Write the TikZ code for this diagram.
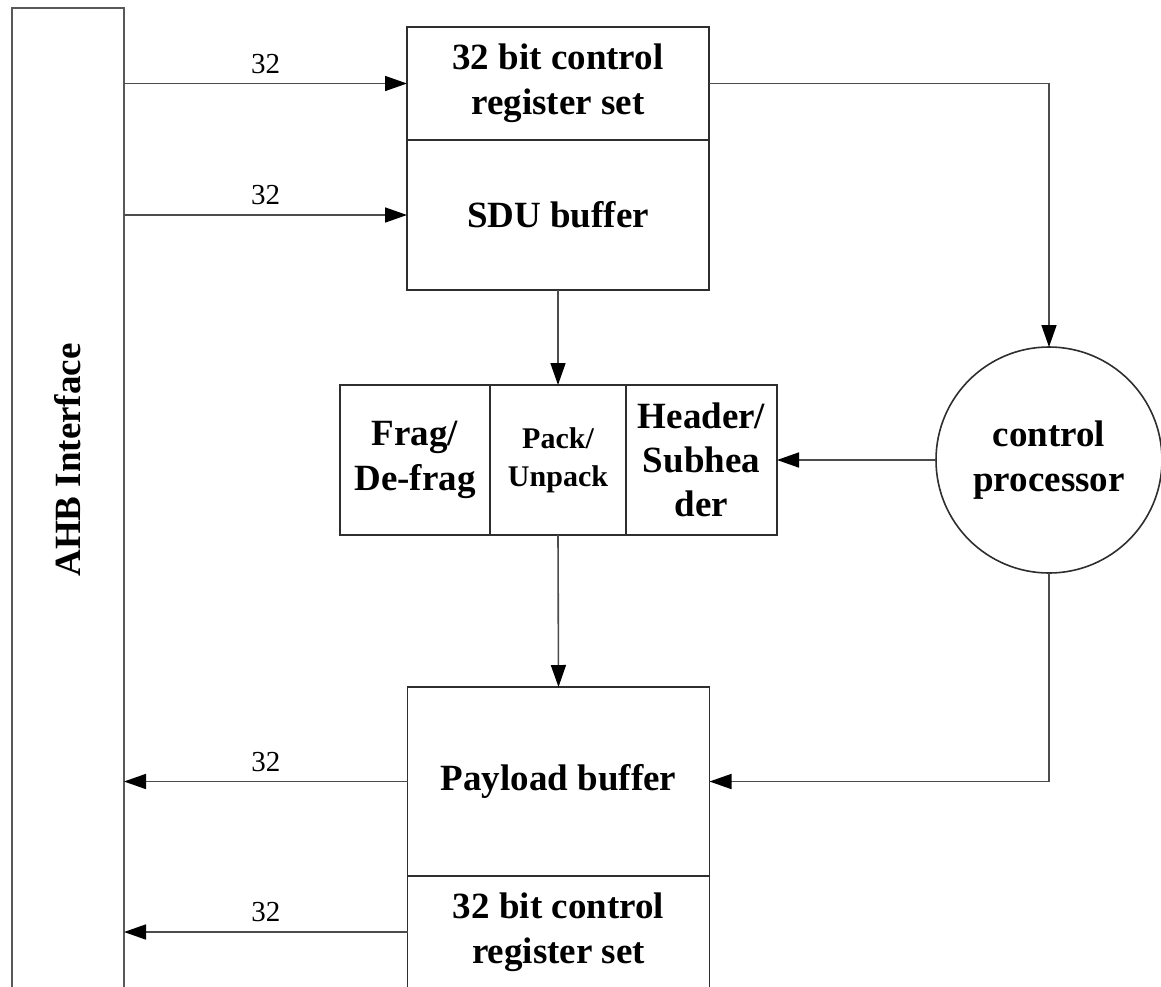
\documentclass[tikz,border=0pt]{standalone}
\usepackage{fontspec}
\setmainfont{Liberation Serif}
\usetikzlibrary{arrows.meta,shapes.geometric}
\begin{document}
\begin{tikzpicture}[x=1pt,y=-1pt,
  line width=1.6pt,
  every node/.style={inner sep=0pt, outer sep=0pt},
  blk/.style={draw=black!82, rectangle, align=center, font=\bfseries\fontsize{37}{45}\selectfont},
  bit/.style={font=\fontsize{29}{30}\selectfont, inner sep=2pt},
  arr/.style={draw=black!70, -{Triangle[length=22pt,width=15pt,color=black]}}
]
\useasboundingbox (0,0) rectangle (1161,986);
% AHB interface bar
\node[draw=black!65, rectangle, minimum width=112pt, minimum height=1000pt] (ahb) at (68,508) {};
\node[rotate=90, font=\bfseries\fontsize{37}{45}\selectfont] (ahbl) at (68,460) {AHB Interface};
% top block
\node[blk, minimum width=302pt, minimum height=113pt] (reg1) at (558,83.5) {32 bit control\\register set};
\node[blk, minimum width=302pt, minimum height=150pt] (sdu) at (558,215) {SDU buffer};
% middle block
\node[blk, minimum width=150pt, minimum height=150pt] (frag) at (415,460) {Frag/\\De-frag};
\node[blk, minimum width=136pt, minimum height=150pt, font=\bfseries\fontsize{30}{38}\selectfont] (pack) at (558,460) {Pack/\\Unpack};
\node[blk, minimum width=151pt, minimum height=150pt, font=\bfseries\fontsize{37}{44}\selectfont] (hdr) at (701.5,460) {Header/\\Subhea\\der};
% control processor
\node[draw=black!82, circle, minimum size=226pt, align=center, font=\bfseries\fontsize{37}{45}\selectfont] (cp) at (1049,460) {control\\processor};
% bottom block
\node[blk, minimum width=302pt, minimum height=189pt] (pay) at (558.5,781.5) {Payload buffer};
\node[blk, minimum width=302pt, minimum height=112pt] (reg2) at (558.5,932) {32 bit control\\register set};
% connectors
\draw[arr] (ahb.east |- reg1.west) -- node[bit, above=8pt] (l1) {32} (reg1.west);
\draw[arr] (ahb.east |- sdu.west) -- node[bit, above=8pt] (l2) {32} (sdu.west);
\draw[arr] (sdu.south) -- (pack.north);
\draw[arr] (pack.south) -- (pay.north);
\draw[arr] (reg1.east) -| (cp.north);
\draw[arr] (cp.west) -- (hdr.east);
\draw[arr] (cp.south) |- (pay.east);
\draw[arr] (pay.west) -- node[bit, above=8pt] (l3) {32} (ahb.east |- pay.west);
\draw[arr] (reg2.west) -- node[bit, above=8pt] (l4) {32} (ahb.east |- reg2.west);
\end{tikzpicture}
\end{document}
